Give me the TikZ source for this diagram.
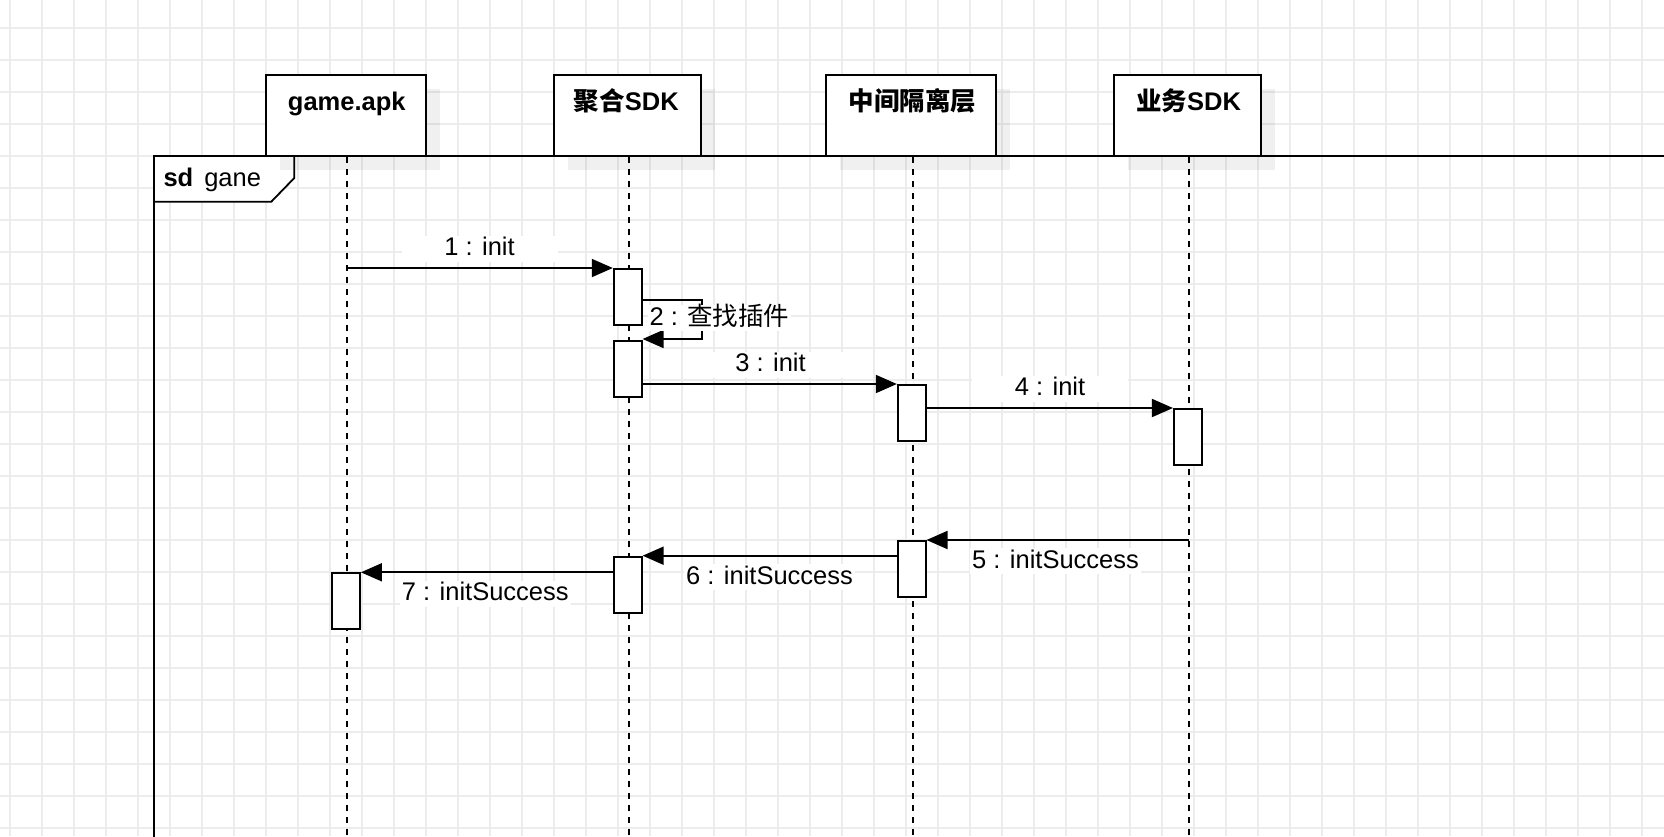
\documentclass[tikz,border=0pt]{standalone}
\usepackage{fontspec}
\setmainfont{Liberation Sans}
\newfontfamily\cjk{Noto Sans CJK SC}
\usetikzlibrary{arrows.meta}
\definecolor{gridc}{RGB}{236,236,236}
\begin{document}
\begin{tikzpicture}[x=1pt,y=-1pt,
  gridline/.style={draw=gridc, line width=1.4pt},
  shadowbox/.style={fill=black, fill opacity=0.06},
  framestroke/.style={draw=black, line width=1.8pt},
  hdr/.style={draw=black, line width=1.8pt, fill=white, minimum height=80.4pt, inner sep=0pt},
  hdrtxt/.style={font=\fontsize{25.5}{30}\selectfont\bfseries, inner sep=0pt, anchor=base},
  life/.style={draw=black, line width=1.8pt, dash pattern=on 6pt off 6pt},
  act/.style={draw=black, line width=1.8pt, fill=white, minimum width=28pt, minimum height=56pt, inner sep=0pt, anchor=north},
  msg/.style={draw=black, line width=1.8pt, -{Triangle[length=21pt,width=18pt]}},
  lbl/.style={font=\fontsize{25.5}{30}\selectfont, fill=white, inner xsep=2pt, inner ysep=0pt, text height=20pt, text depth=6pt, anchor=base},
  txt/.style={font=\fontsize{25.5}{30}\selectfont, inner sep=0pt}]
\useasboundingbox (0,0) rectangle (1664,836);
\fill[white] (0,0) rectangle (1664,836);
% grid
\foreach \i in {0,...,51} \draw[gridline] ({10+32*\i},0) -- ({10+32*\i},836);
\foreach \j in {0,...,25} \draw[gridline] (0,{28+32*\j}) -- (1664,{28+32*\j});
% frame label background
\fill[white] (154,155.7) -- (294.3,155.7) -- (294.3,178) -- (271.3,201.7) -- (154,201.7) -- cycle;
% shadows of the lifeline heads
\fill[shadowbox] (279.7,89.3) rectangle (440,169.7);
\fill[shadowbox] (568,89.3) rectangle (714.7,169.7);
\fill[shadowbox] (839.7,89.3) rectangle (1010,169.7);
\fill[shadowbox] (1128,89.3) rectangle (1275,169.7);
% frame
\draw[framestroke] (1670,155.7) -- (154,155.7) -- (154,840);
\draw[framestroke] (294.3,155.7) -- (294.3,178) -- (271.3,201.7) -- (154,201.7);
\node[txt, anchor=base west] (sd) at (163.3,186) {\textbf{sd}\hspace{11pt}gane};
% heads
\node[hdr, minimum width=160.3pt] (h1) at (345.85,115.5) {};
\node[hdr, minimum width=146.7pt] (h2) at (627.35,115.5) {};
\node[hdr, minimum width=170.3pt] (h3) at (910.85,115.5) {};
\node[hdr, minimum width=147pt] (h4) at (1187.5,115.5) {};
\node[hdrtxt] (t1) at (346.8,110) {game.apk};
\node[hdrtxt] (t2) at (626.3,110) {{\cjk\bfseries 聚合}SDK};
\node[hdrtxt] (t3) at (912.5,110) {{\cjk\bfseries 中间隔离层}};
\node[hdrtxt] (t4) at (1188.5,110) {{\cjk\bfseries 业务}SDK};
% lifelines
\coordinate (L1) at (346.7,157);
\coordinate (L2) at (629,157);
\coordinate (L3) at (912.7,157);
\coordinate (L4) at (1189,157);
\draw[life] (L1) -- (L1 |- 0,840);
\draw[life] (L2) -- (L2 |- 0,840);
\draw[life] (L3) -- (L3 |- 0,840);
\draw[life] (L4) -- (L4 |- 0,840);
% activations
\node[act] (A1) at (627.7,268) {};
\node[act] (A2) at (627.7,340) {};
\node[act] (A3) at (911.75,384) {};
\node[act] (A4) at (1187.85,408) {};
\node[act] (A5) at (911.6,540) {};
\node[act] (A6) at (627.7,555.7) {};
\node[act] (A7) at (346,572.3) {};
% messages
\draw[msg] (L1 |- A1.north) -- (A1.north west);
\draw[msg] (A1.east |- 0,300) -- (702.3,300) -- (702.3,339) -- (A2.east |- 0,339);
\draw[msg] (A2.east |- A3.north) -- (A3.north west);
\draw[msg] (A3.east |- A4.north) -- (A4.north west);
\draw[msg] (L4 |- A5.north) -- (A5.north east);
\draw[msg] (A5.west |- A6.north) -- (A6.north east);
\draw[msg] (A6.west |- A7.north) -- (A7.north east);
% labels
\node[lbl, minimum width=156pt] (m1) at (479.5,255.7) {1 : init};
\node[lbl] (m2) at (719.5,325) {2 : {\cjk 查找插件}};
\node[lbl, minimum width=156pt] (m3) at (770.5,371.7) {3 : init};
\node[lbl, minimum width=156pt] (m4) at (1050,395.7) {4 : init};
\node[lbl] (m5) at (1055.5,568.3) {5 : initSuccess};
\node[lbl] (m6) at (769.5,584) {6 : initSuccess};
\node[lbl] (m7) at (485.3,600.7) {7 : initSuccess};
\end{tikzpicture}
\end{document}
